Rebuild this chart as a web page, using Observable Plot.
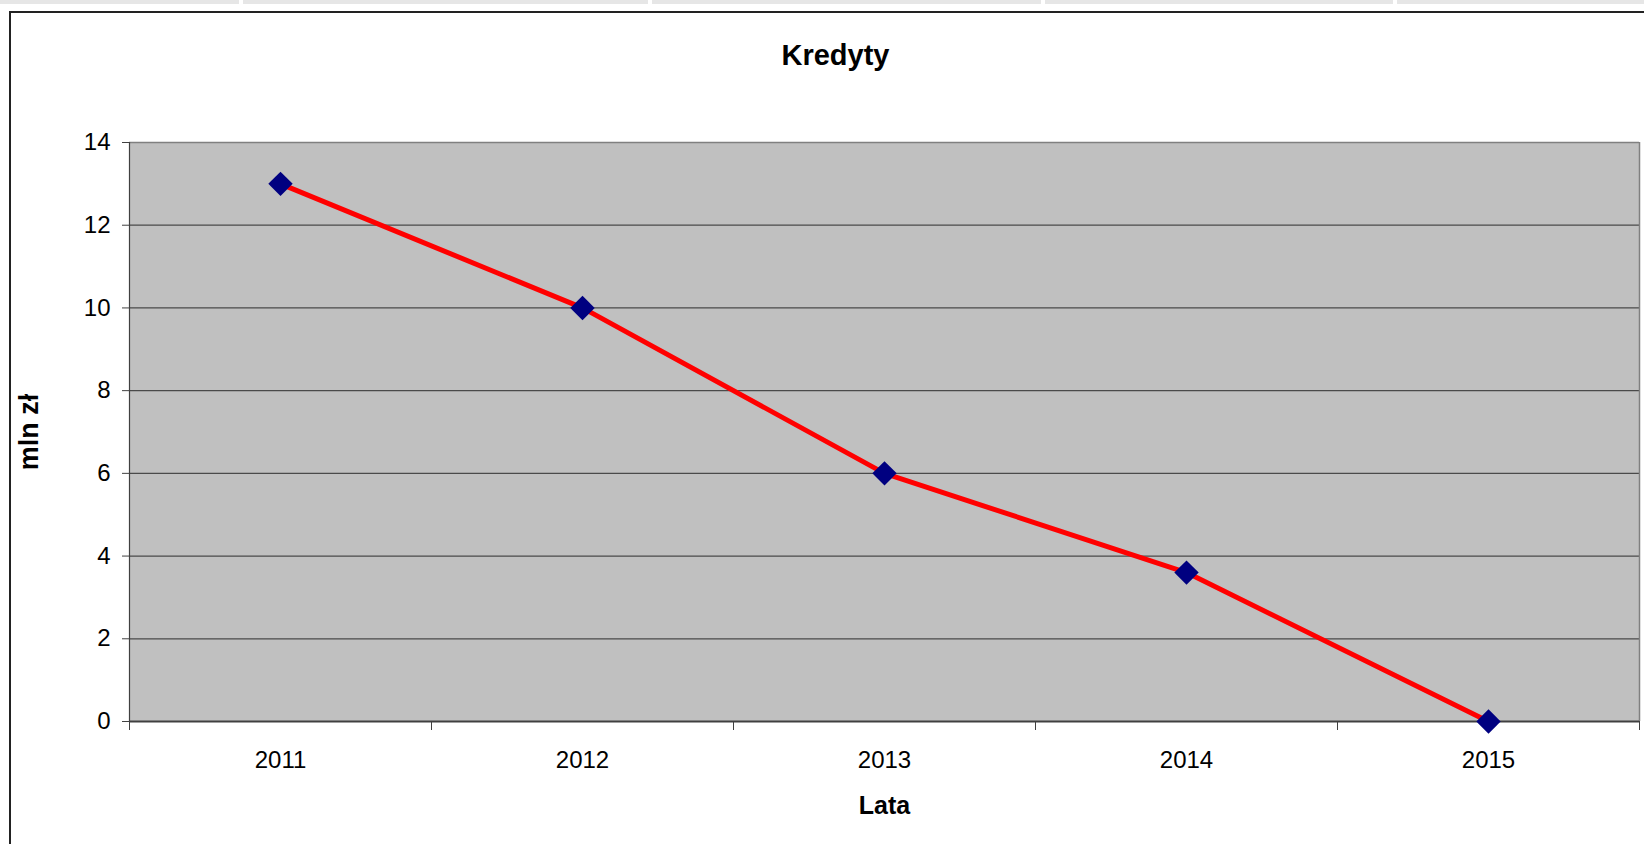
<!DOCTYPE html>
<html>
<head>
<meta charset="utf-8">
<script src="https://cdn.jsdelivr.net/npm/d3@7"></script>
<script src="https://cdn.jsdelivr.net/npm/@observablehq/plot@0.6"></script>
<style>
  html, body { margin: 0; padding: 0; background: #fff; overflow: hidden; }
  #wrap { position: relative; width: 1644px; height: 844px; }
  .strip { position: absolute; top: 0; height: 4px; background: #e6e6e6; }
  #border { position: absolute; left: 9px; top: 11px; width: 1700px; height: 900px;
            border-left: 2px solid #222; border-top: 2px solid #222; }
  #chart { position: absolute; left: 0; top: 0; }
</style>
</head>
<body>
<div id="wrap">
  <div class="strip" style="left:0;width:239px"></div>
  <div class="strip" style="left:243px;width:405px"></div>
  <div class="strip" style="left:652px;width:389px"></div>
  <div class="strip" style="left:1045px;width:348px"></div>
  <div class="strip" style="left:1397px;width:247px"></div>
  <div id="border"></div>
  <div id="chart"></div>
</div>
<script>
const years = [2011, 2012, 2013, 2014, 2015];
const kredyty = [13, 10, 6, 3.6, 0];
const yTicks = [0, 2, 4, 6, 8, 10, 12, 14];
const titleText = "Kredyty";
const xLabel = "Lata";
const yLabel = "mln zł";

const data = years.map((year, i) => ({year, value: kredyty[i]}));
const bounds = [...years.map(y => y - 0.5), years[years.length - 1] + 0.5];

const font = "'Liberation Sans', Arial, Helvetica, sans-serif";

const chart = Plot.plot({
  width: 1644,
  height: 844,
  marginTop: 142,
  marginBottom: 123,
  marginLeft: 129,
  marginRight: 5,
  style: {fontFamily: font, fontSize: "24px", color: "#000", background: "transparent", overflow: "visible"},
  x: {domain: [bounds[0], bounds[bounds.length - 1]]},
  y: {domain: [0, 14]},
  marks: [
    Plot.frame({fill: "#c0c0c0", stroke: null}),
    Plot.gridY(yTicks.slice(1, -1), {stroke: "#4a4a4a", strokeOpacity: 1, strokeWidth: 1.2}),
    Plot.ruleY([14], {stroke: "#808080", strokeWidth: 1.5}),
    Plot.ruleX([bounds[bounds.length - 1]], {stroke: "#808080", strokeWidth: 1.5}),
    Plot.ruleX([bounds[0]], {stroke: "#404040", strokeWidth: 1.2}),
    Plot.ruleY([0], {stroke: "#404040", strokeWidth: 2}),
    Plot.axisY(yTicks, {tickSize: 7, tickPadding: 12, stroke: "#404040", fill: "#000", label: null, fontSize: 24}),
    Plot.axisX(years, {tickSize: 0, tickPadding: 29, tickFormat: d => String(d), fill: "#000", label: null, fontSize: 24}),
    Plot.axisX(bounds, {tickSize: 9, tickFormat: () => "", stroke: "#404040", label: null}),
    Plot.text([xLabel], {frameAnchor: "bottom", textAnchor: "middle", lineAnchor: "middle", dy: 84, fontWeight: "bold", fontSize: 25, fill: "#000", letterSpacing: "0.6px"}),
    Plot.text([yLabel], {frameAnchor: "left", textAnchor: "middle", lineAnchor: "middle", rotate: -90, dx: -100, fontWeight: "bold", fontSize: 27, fill: "#000", letterSpacing: "0.6px"}),
    Plot.text([titleText], {frameAnchor: "top", textAnchor: "middle", lineAnchor: "middle", dx: -49, dy: -87, fontWeight: "bold", fontSize: 29, fill: "#000"}),
    Plot.line(data, {x: "year", y: "value", stroke: "#ff0000", strokeWidth: 5}),
    Plot.dot(data, {x: "year", y: "value", symbol: "diamond2", r: 11, fill: "#000080", stroke: null})
  ]
});
document.getElementById("chart").appendChild(chart);
</script>
</body>
</html>
